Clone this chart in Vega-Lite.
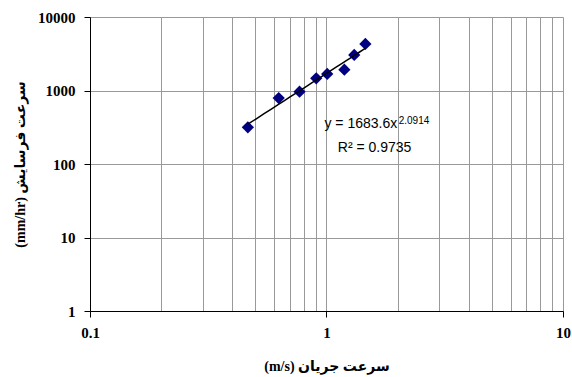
{
  "$schema": "https://vega.github.io/schema/vega-lite/v6.json",
  "width": 473,
  "height": 294,
  "autosize": "none",
  "padding": {"left": 90, "top": 17, "right": 9, "bottom": 66},
  "background": "white",
  "config": {"view": {"stroke": null}},
  "datasets": {
    "pts": [
      {"v": 0.465, "e": 315},
      {"v": 0.628, "e": 790},
      {"v": 0.769, "e": 963},
      {"v": 0.905, "e": 1466},
      {"v": 1.007, "e": 1678},
      {"v": 1.19, "e": 1920},
      {"v": 1.31, "e": 3050},
      {"v": 1.46, "e": 4300}
    ],
    "main": [
      {"v": 0.98, "e": 350, "t": "y = 1683.6x"},
      {"v": 1.116, "e": 165, "t": "R² = 0.9735"}
    ],
    "sup": [
      {"v": 2.02, "e": 390, "t": "2.0914"}
    ]
  },
  "encoding": {
    "x": {
      "field": "v", "type": "quantitative",
      "scale": {"type": "log", "domain": [0.1, 10], "nice": false},
      "axis": {
        "values": [0.1, 0.2, 0.3, 0.4, 0.5, 0.6, 0.7, 0.8, 0.9, 1, 2, 3, 4, 5, 6, 7, 8, 9, 10],
        "grid": true, "gridColor": "#999999", "gridWidth": 1,
        "domainColor": "black", "domainWidth": 1,
        "tickColor": "black", "tickSize": 6,
        "tickOpacity": {"condition": {"test": "indexof([0.1, 1, 10], datum.value) >= 0", "value": 1}, "value": 0},
        "labelExpr": "indexof([0.1, 1, 10], datum.value) >= 0 ? datum.value + '' : ''",
        "labelFlush": false, "labelOverlap": false,
        "labelFont": "Liberation Serif", "labelFontWeight": "bold", "labelFontSize": 15, "labelColor": "black",
        "labelPadding": 8,
        "title": "(m/s) سرعت جریان",
        "titleFont": "Liberation Serif, DejaVu Sans", "titleFontWeight": "bold", "titleFontSize": 14, "titleColor": "black",
        "titlePadding": 19
      }
    },
    "y": {
      "field": "e", "type": "quantitative",
      "scale": {"type": "log", "domain": [1, 10000], "nice": false},
      "axis": {
        "values": [1, 10, 100, 1000, 10000],
        "grid": true, "gridColor": "#999999", "gridWidth": 1,
        "domainColor": "black", "domainWidth": 1,
        "tickColor": "black", "tickSize": 6,
        "labelExpr": "datum.value + ''",
        "labelOverlap": false,
        "labelFont": "Liberation Serif", "labelFontWeight": "bold", "labelFontSize": 15, "labelColor": "black",
        "labelPadding": 9,
        "title": "(mm/hr) سرعت فرسایش",
        "titleFont": "Liberation Serif, DejaVu Sans", "titleFontWeight": "bold", "titleFontSize": 14, "titleColor": "black",
        "titlePadding": 10
      }
    }
  },
  "layer": [
    {
      "data": {"name": "pts"},
      "mark": {"type": "point", "shape": "diamond", "filled": true, "size": 150, "color": "#000080", "opacity": 1}
    },
    {
      "data": {"name": "pts"},
      "transform": [{"regression": "e", "on": "v", "method": "pow"}],
      "mark": {"type": "line", "color": "black", "strokeWidth": 1.5}
    },
    {
      "data": {"name": "main"},
      "mark": {"type": "text", "align": "left", "baseline": "middle", "font": "Liberation Sans", "fontSize": 14, "color": "black"},
      "encoding": {"text": {"field": "t"}}
    },
    {
      "data": {"name": "sup"},
      "mark": {"type": "text", "align": "left", "baseline": "middle", "font": "Liberation Sans", "fontSize": 10, "color": "black"},
      "encoding": {"text": {"field": "t"}}
    }
  ]
}
